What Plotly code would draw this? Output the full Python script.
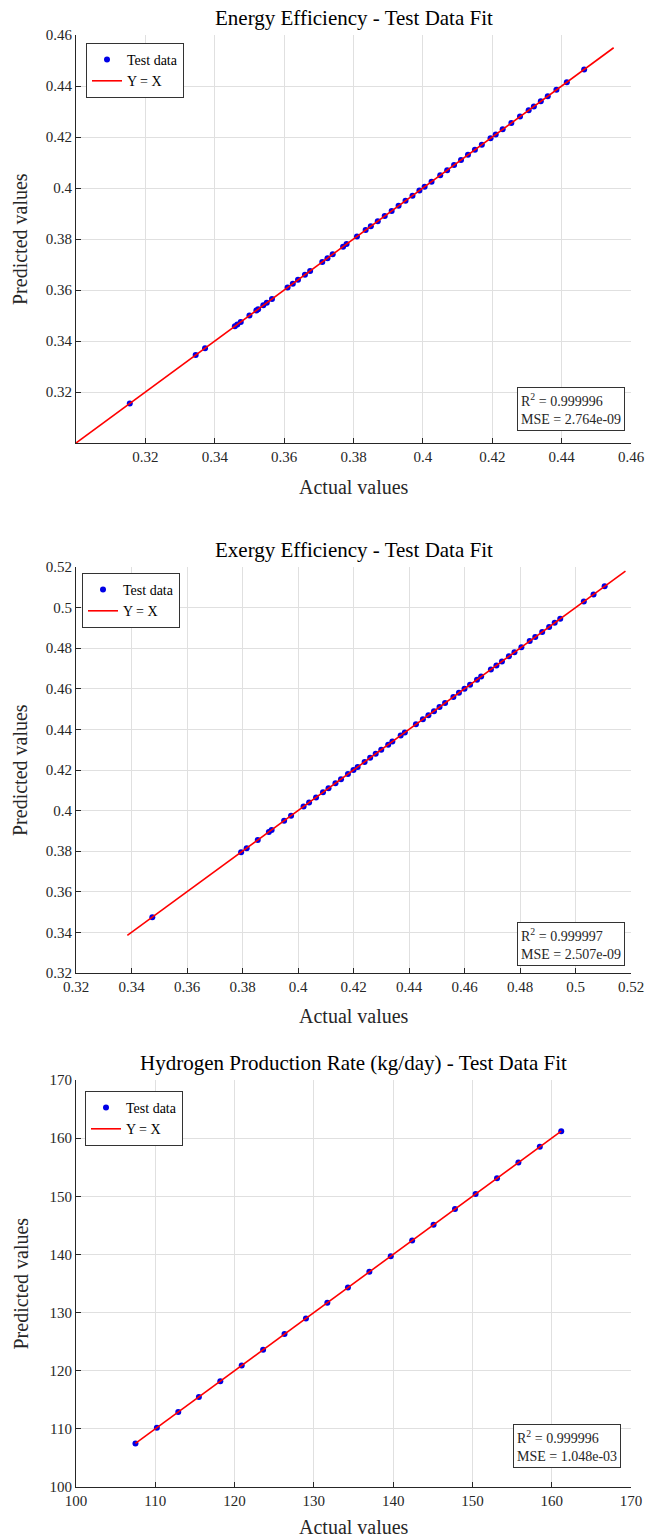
import plotly.graph_objects as go

# ---------------- data ----------------
energy_actual = [0.3155, 0.3345, 0.3372, 0.3458, 0.3465, 0.3475, 0.3500, 0.3520, 0.3525,
                 0.3540, 0.3550, 0.3565, 0.3610, 0.3625, 0.3640, 0.3660, 0.3675, 0.3710,
                 0.3725, 0.3740, 0.3770, 0.3780, 0.3810, 0.3835, 0.3850, 0.3870, 0.3890,
                 0.3910, 0.3930, 0.3950, 0.3970, 0.3990, 0.4005, 0.4025, 0.4050, 0.4070,
                 0.4090, 0.4110, 0.4130, 0.4150, 0.4170, 0.4195, 0.4210, 0.4230, 0.4255,
                 0.4280, 0.4305, 0.4320, 0.4340, 0.4360, 0.4385, 0.4415, 0.4465]
energy_predicted = [0.3155, 0.3345, 0.3372, 0.3458, 0.3465, 0.3475, 0.3500, 0.3520, 0.3525,
                    0.3540, 0.3550, 0.3565, 0.3610, 0.3625, 0.3640, 0.3660, 0.3675, 0.3710,
                    0.3725, 0.3740, 0.3770, 0.3780, 0.3810, 0.3835, 0.3850, 0.3870, 0.3890,
                    0.3910, 0.3930, 0.3950, 0.3970, 0.3990, 0.4005, 0.4025, 0.4050, 0.4070,
                    0.4090, 0.4110, 0.4130, 0.4150, 0.4170, 0.4195, 0.4210, 0.4230, 0.4255,
                    0.4280, 0.4305, 0.4320, 0.4340, 0.4360, 0.4385, 0.4415, 0.4465]
energy_line = [0.300, 0.455]

exergy_actual = [0.3475, 0.3795, 0.3815, 0.3855, 0.3895, 0.3905, 0.3950, 0.3975, 0.4020,
                 0.4040, 0.4065, 0.4090, 0.4110, 0.4135, 0.4155, 0.4180, 0.4200, 0.4215,
                 0.4240, 0.4260, 0.4280, 0.4300, 0.4325, 0.4340, 0.4370, 0.4385, 0.4425,
                 0.4450, 0.4470, 0.4490, 0.4510, 0.4530, 0.4560, 0.4580, 0.4600, 0.4620,
                 0.4645, 0.4660, 0.4695, 0.4715, 0.4735, 0.4760, 0.4780, 0.4805, 0.4835,
                 0.4855, 0.4880, 0.4905, 0.4925, 0.4945, 0.5030, 0.5065, 0.5105]
exergy_predicted = [0.3475, 0.3795, 0.3815, 0.3855, 0.3895, 0.3905, 0.3950, 0.3975, 0.4020,
                    0.4040, 0.4065, 0.4090, 0.4110, 0.4135, 0.4155, 0.4180, 0.4200, 0.4215,
                    0.4240, 0.4260, 0.4280, 0.4300, 0.4325, 0.4340, 0.4370, 0.4385, 0.4425,
                    0.4450, 0.4470, 0.4490, 0.4510, 0.4530, 0.4560, 0.4580, 0.4600, 0.4620,
                    0.4645, 0.4660, 0.4695, 0.4715, 0.4735, 0.4760, 0.4780, 0.4805, 0.4835,
                    0.4855, 0.4880, 0.4905, 0.4925, 0.4945, 0.5030, 0.5065, 0.5105]
exergy_line = [0.3385, 0.518]

hydrogen_actual = [107.5, 110.2, 112.9, 115.5, 118.2, 120.9, 123.6, 126.3, 129.0, 131.7,
                   134.3, 137.0, 139.7, 142.4, 145.1, 147.8, 150.4, 153.1, 155.8, 158.5, 161.2]
hydrogen_predicted = [107.5, 110.2, 112.9, 115.5, 118.2, 120.9, 123.6, 126.3, 129.0, 131.7,
                      134.3, 137.0, 139.7, 142.4, 145.1, 147.8, 150.4, 153.1, 155.8, 158.5, 161.2]
hydrogen_line = [107.5, 161.2]

energy_ticks = [0.32, 0.34, 0.36, 0.38, 0.40, 0.42, 0.44, 0.46]
energy_ticklabels = ["0.32", "0.34", "0.36", "0.38", "0.4", "0.42", "0.44", "0.46"]
exergy_ticks = [0.32, 0.34, 0.36, 0.38, 0.40, 0.42, 0.44, 0.46, 0.48, 0.50, 0.52]
exergy_ticklabels = ["0.32", "0.34", "0.36", "0.38", "0.4", "0.42", "0.44", "0.46",
                     "0.48", "0.5", "0.52"]
hydrogen_ticks = [100, 110, 120, 130, 140, 150, 160, 170]
hydrogen_ticklabels = ["100", "110", "120", "130", "140", "150", "160", "170"]

titles = ["Energy Efficiency - Test Data Fit",
          "Exergy Efficiency - Test Data Fit",
          "Hydrogen Production Rate (kg/day) - Test Data Fit"]
r2_values = ["0.999996", "0.999997", "0.999996"]
mse_values = ["2.764e-09", "2.507e-09", "1.048e-03"]

# ---------------- layout geometry (pixels) ----------------
W, H = 648, 1540
FONT = "Liberation Serif"
AX_LEFT, AX_RIGHT = 76, 631
panels = [  # top, bottom of axes box in px
    (35, 443),
    (567, 973),
    (1080, 1487),
]
xlabel_offset = [44, 43, 40]
ranges = [(0.30, 0.46), (0.32, 0.52), (100, 170)]
datasets = [
    (energy_actual, energy_predicted, energy_line, energy_ticks, energy_ticklabels),
    (exergy_actual, exergy_predicted, exergy_line, exergy_ticks, exergy_ticklabels),
    (hydrogen_actual, hydrogen_predicted, hydrogen_line, hydrogen_ticks, hydrogen_ticklabels),
]
legend_pos = [(86, 43), (82, 573), (85, 1091)]
box_pos = [(625, 431), (625, 966), (621, 1468)]


def px_x(x):
    return x / W


def px_y(y):
    return 1 - y / H


fig = go.Figure()
annotations = []
layout = dict(
    width=W, height=H,
    margin=dict(l=0, r=0, t=0, b=0),
    paper_bgcolor="white", plot_bgcolor="white",
    font=dict(family=FONT, size=15, color="#262626"),
    showlegend=True,
)

for i, (top, bot) in enumerate(panels):
    n = "" if i == 0 else str(i + 1)
    actual, pred, line, ticks, ticklabels = datasets[i]
    lg = "legend" if i == 0 else f"legend{i + 1}"
    fig.add_trace(go.Scatter(
        x=actual, y=pred, mode="markers", name="Test data",
        marker=dict(color="#0000e6", size=6, line=dict(width=0)),
        xaxis=f"x{n}", yaxis=f"y{n}", legend=lg,
    ))
    fig.add_trace(go.Scatter(
        x=line, y=line, mode="lines", name="Y = X",
        line=dict(color="#ff0000", width=1.6),
        xaxis=f"x{n}", yaxis=f"y{n}", legend=lg,
    ))
    common = dict(
        showgrid=True, gridcolor="#e0e0e0", gridwidth=1,
        zeroline=False, showline=True, linecolor="#262626", linewidth=1,
        ticks="inside", ticklen=5, tickcolor="#262626", tickwidth=1,
        tickfont=dict(family=FONT, size=15, color="#262626"),
        tickmode="array", tickvals=ticks, ticktext=ticklabels,
        automargin=False, mirror=False,
    )
    layout[f"xaxis{n}"] = dict(
        common, domain=[px_x(AX_LEFT), px_x(AX_RIGHT)], range=list(ranges[i]),
        anchor=f"y{n}",
    )
    layout[f"yaxis{n}"] = dict(
        common, domain=[px_y(bot), px_y(top)], range=list(ranges[i]),
        anchor=f"x{n}",
    )
    lx, ly = legend_pos[i]
    layout[lg] = dict(
        x=px_x(lx), y=px_y(ly), xanchor="left", yanchor="top",
        xref="paper", yref="paper",
        bgcolor="white", bordercolor="#333333", borderwidth=1,
        font=dict(family=FONT, size=14, color="black"),
        tracegroupgap=0, itemwidth=30,
    )
    # title
    annotations.append(dict(
        text=titles[i], x=px_x((AX_LEFT + AX_RIGHT) / 2), y=px_y(top - 17),
        xref="paper", yref="paper", xanchor="center", yanchor="middle",
        showarrow=False, font=dict(family=FONT, size=21, color="black"),
    ))
    # x label
    annotations.append(dict(
        text="Actual values", x=px_x((AX_LEFT + AX_RIGHT) / 2),
        y=px_y(bot + xlabel_offset[i]),
        xref="paper", yref="paper", xanchor="center", yanchor="middle",
        showarrow=False, font=dict(family=FONT, size=20, color="#262626"),
    ))
    # y label
    annotations.append(dict(
        text="Predicted values", x=px_x(20), y=px_y((top + bot) / 2),
        xref="paper", yref="paper", xanchor="center", yanchor="middle",
        textangle=-90,
        showarrow=False, font=dict(family=FONT, size=20, color="#262626"),
    ))
    # stats box
    bx, by = box_pos[i]
    annotations.append(dict(
        text=f"R<sup>2</sup> = {r2_values[i]}<br>MSE = {mse_values[i]}",
        x=px_x(bx), y=px_y(by), xref="paper", yref="paper",
        xanchor="right", yanchor="bottom", align="left",
        showarrow=False, bgcolor="white", bordercolor="#333333", borderwidth=1,
        borderpad=3, font=dict(family=FONT, size=14, color="#262626"),
    ))

layout["annotations"] = annotations
fig.update_layout(**layout)
fig.write_html("out.html")
